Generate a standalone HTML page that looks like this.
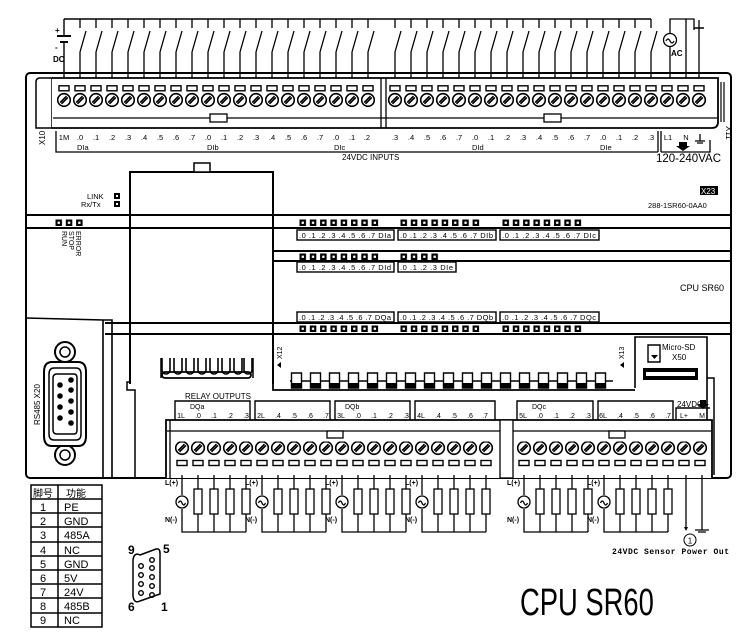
<!DOCTYPE html>
<html><head><meta charset="utf-8"><style>
html,body{margin:0;padding:0;background:#fff;}
svg{display:block;}
text{font-family:"Liberation Sans","Noto Sans CJK SC",sans-serif;fill:#000;}
</style></head><body>
<svg width="754" height="635" viewBox="0 0 754 635" xmlns="http://www.w3.org/2000/svg">
<defs>
<pattern id="scrT" patternUnits="userSpaceOnUse" width="16" height="24">
  <rect x="3" y="0.8" width="10" height="5" fill="#fff" stroke="#000" stroke-width="1.4"/>
  <circle cx="8" cy="15" r="6.3" fill="#fff" stroke="#000" stroke-width="1.6"/>
  <path d="M4.2,17.5 L10.5,11.2 M5.5,18.8 L11.8,12.5" stroke="#000" stroke-width="1.6"/>
</pattern>
<pattern id="scrB" patternUnits="userSpaceOnUse" width="16" height="26">
  <circle cx="8" cy="6.5" r="6.3" fill="#fff" stroke="#000" stroke-width="1.6"/>
  <path d="M4.2,9 L10.5,2.7 M5.5,10.3 L11.8,4" stroke="#000" stroke-width="1.6"/>
  <rect x="3" y="19" width="10" height="5" fill="#fff" stroke="#000" stroke-width="1.4"/>
</pattern>
<pattern id="sw" patternUnits="userSpaceOnUse" width="16" height="90">
  <path d="M8,19 V28 M8,52 L14,31 M8,52 V85" stroke="#000" stroke-width="1.3" fill="none"/>
</pattern>
<pattern id="led" patternUnits="userSpaceOnUse" width="10.3" height="8">
  <rect x="0.5" y="0.5" width="6.5" height="6.5" fill="#000"/>
  <rect x="2.6" y="2.6" width="2.3" height="2.3" fill="#fff"/>
</pattern>
<pattern id="rel" patternUnits="userSpaceOnUse" width="19" height="18">
  <path d="M0,9 H1.5 M11.5,9 H19" stroke="#000" stroke-width="1.4"/>
  <path d="M1.5,1 H11.5 V16 H1.5 Z" fill="#fff" stroke="#000" stroke-width="1.4"/>
  <rect x="1.5" y="11" width="10" height="5" fill="#000"/>
</pattern>
<g id="grp" stroke="#000" stroke-width="1.3" fill="none">
  <path d="M0,475 V495 M0,509 V532 H64"/>
  <circle cx="0" cy="502" r="6" fill="#fff"/>
  <path d="M-3.5,503 q1.7,-4 3.5,0 t3.5,0"/>
  <path d="M16,475 V489 M16,514 V532 M32,475 V489 M32,514 V532 M48,475 V489 M48,514 V532 M64,475 V489 M64,514 V532"/>
  <rect x="12" y="489" width="8" height="25" fill="#fff"/>
  <rect x="28" y="489" width="8" height="25" fill="#fff"/>
  <rect x="44" y="489" width="8" height="25" fill="#fff"/>
  <rect x="60" y="489" width="8" height="25" fill="#fff"/>
</g>
</defs>

<path d="M64,19 H651 M64,19 V36 M64,42 V85" stroke="#000" stroke-width="1.4" fill="none"/>
<path d="M57,36 H71 M60,42 H68" stroke="#000" stroke-width="2"/>
<text x="55" y="33" font-size="8" font-weight="bold">+</text>
<text x="55" y="50" font-size="8" font-weight="bold">-</text>
<text x="53" y="62" font-size="8" font-weight="bold">DC</text>
<g transform="translate(72,0)"><rect x="0" y="0" width="304" height="86" fill="url(#sw)"/></g>
<g transform="translate(387,0)"><rect x="0" y="0" width="272" height="86" fill="url(#sw)"/></g>
<path d="M670,85 V47 M670,33 V19 H686 V85" stroke="#000" stroke-width="1.3" fill="none"/>
<path d="M686,19 H694 V30" stroke="#000" stroke-width="1.3" fill="none"/>
<path d="M699,20 V85" stroke="#000" stroke-width="1.3"/>
<path d="M694,28 H704" stroke="#000" stroke-width="1.5"/>
<circle cx="670" cy="40" r="6.5" fill="#fff" stroke="#000" stroke-width="1.3"/>
<path d="M666,41 q2,-4 4,0 t4,0" stroke="#000" stroke-width="1.2" fill="none"/>
<text x="671" y="56" font-size="8" font-weight="bold">AC</text>

<rect x="26" y="73" width="705" height="405" rx="4" fill="none" stroke="#000" stroke-width="2"/>
<path d="M36,128 V82 Q36,78 40,78 H52 V128 Z" fill="none" stroke="#000" stroke-width="1.5"/>
<path d="M52,78 H718 V122 Q718,128 712,128 H52" fill="#fff" stroke="#000" stroke-width="1.8"/>
<path d="M53,118 H717 M381,78 V128 M386,78 V128" stroke="#000" stroke-width="1.3"/>
<rect x="210" y="114" width="17" height="8" fill="#fff" stroke="#000" stroke-width="1.3"/>
<rect x="544" y="114" width="17" height="8" fill="#fff" stroke="#000" stroke-width="1.3"/>
<g transform="translate(56,85)"><rect x="0" y="0" width="320" height="23" fill="url(#scrT)"/></g>
<g transform="translate(387,85)"><rect x="0" y="0" width="320" height="23" fill="url(#scrT)"/></g>
<path d="M721,82 V122 M724,82 V122" stroke="#000" stroke-width="1.2"/>

<text font-size="7.5" y="140" text-anchor="middle">
<tspan x="64">1M</tspan><tspan x="80">.0</tspan><tspan x="96">.1</tspan><tspan x="112">.2</tspan><tspan x="128">.3</tspan><tspan x="144">.4</tspan><tspan x="160">.5</tspan><tspan x="176">.6</tspan><tspan x="192">.7</tspan><tspan x="208">.0</tspan><tspan x="224">.1</tspan><tspan x="240">.2</tspan><tspan x="256">.3</tspan><tspan x="272">.4</tspan><tspan x="288">.5</tspan><tspan x="304">.6</tspan><tspan x="320">.7</tspan><tspan x="336">.0</tspan><tspan x="352">.1</tspan><tspan x="368">.2</tspan>
<tspan x="395">.3</tspan><tspan x="411">.4</tspan><tspan x="427">.5</tspan><tspan x="443">.6</tspan><tspan x="459">.7</tspan><tspan x="475">.0</tspan><tspan x="491">.1</tspan><tspan x="507">.2</tspan><tspan x="523">.3</tspan><tspan x="539">.4</tspan><tspan x="555">.5</tspan><tspan x="571">.6</tspan><tspan x="587">.7</tspan><tspan x="603">.0</tspan><tspan x="619">.1</tspan><tspan x="635">.2</tspan><tspan x="651">.3</tspan><tspan x="668">L1</tspan><tspan x="686">N</tspan>
</text>
<text font-size="7.5" y="150"><tspan x="77">DIa</tspan><tspan x="207">DIb</tspan><tspan x="334">DIc</tspan><tspan x="472">DId</tspan><tspan x="600">DIe</tspan></text>
<path d="M56,131 V152 H658 M658,131 V152 M661,131 V152 M661,152 H710 V140" stroke="#000" stroke-width="1.3" fill="none"/>
<path d="M679,142 h8 v4 h3 l-7,5 l-7,-5 h3z" fill="#000"/>
<path d="M700,134 V141 M695,141 H705 M697,143 H703" stroke="#000" stroke-width="1.3"/>
<text x="342" y="160" font-size="8">24VDC INPUTS</text>
<text x="656" y="162" font-size="11.5">120-240VAC</text>
<text x="0" y="0" font-size="8" transform="translate(45,145) rotate(-90)">X10</text>
<text x="0" y="0" font-size="8" transform="translate(726,126) rotate(90)">X11</text>

<path d="M130,384 V172 H273 V384" fill="none" stroke="#000" stroke-width="2"/>
<rect x="194" y="163" width="16" height="9" fill="#fff" stroke="#000" stroke-width="1.5"/>
<text x="87" y="199" font-size="7.5">LINK</text>
<rect x="114" y="193" width="6" height="6" fill="#000"/><rect x="116" y="195" width="2" height="2" fill="#fff"/>
<text x="81" y="207" font-size="7.5">Rx/Tx</text>
<rect x="114" y="201" width="6" height="6" fill="#000"/><rect x="116" y="203" width="2" height="2" fill="#fff"/>
<rect x="700" y="186" width="18" height="9" fill="#000"/>
<text x="701" y="194" font-size="8" style="fill:#fff">X23</text>
<text x="648" y="208" font-size="7.5">288-1SR60-0AA0</text>
<text x="680" y="291" font-size="9">CPU SR60</text>

<path d="M26,215 H731 M26,228 H731 M273,251 H731 M273,261 H731 M105,323 H731 M105,334 H731" stroke="#000" stroke-width="2"/>
<g transform="translate(55,219)"><rect width="31" height="8" fill="url(#led)"/></g>
<text font-size="7" transform="translate(62,231) rotate(90)">RUN</text>
<text font-size="7" transform="translate(69,231) rotate(90)">STOP</text>
<text font-size="7" transform="translate(76,231) rotate(90)">ERROR</text>
<g transform="translate(299,219)"><rect width="82" height="8" fill="url(#led)"/></g>
<g transform="translate(400,219)"><rect width="82" height="8" fill="url(#led)"/></g>
<g transform="translate(502,219)"><rect width="82" height="8" fill="url(#led)"/></g>
<g transform="translate(299,253)"><rect width="82" height="8" fill="url(#led)"/></g>
<g transform="translate(400,253)"><rect width="41" height="8" fill="url(#led)"/></g>
<g transform="translate(299,325)"><rect width="82" height="8" fill="url(#led)"/></g>
<g transform="translate(400,325)"><rect width="82" height="8" fill="url(#led)"/></g>
<g transform="translate(502,325)"><rect width="82" height="8" fill="url(#led)"/></g>
<g fill="none" stroke="#000" stroke-width="1.4">
<rect x="297" y="230" width="97" height="10"/><rect x="398" y="230" width="98" height="10"/><rect x="500" y="230" width="99" height="10"/>
<rect x="297" y="262" width="97" height="10"/><rect x="398" y="262" width="58" height="10"/>
<rect x="297" y="312" width="97" height="10"/><rect x="398" y="312" width="98" height="10"/><rect x="500" y="312" width="99" height="10"/>
</g>
<g font-size="7.5">
<text x="299" y="238" textLength="92">.0 .1 .2 .3 .4 .5 .6 .7 DIa</text>
<text x="400" y="238" textLength="93">.0 .1 .2 .3 .4 .5 .6 .7 DIb</text>
<text x="502" y="238" textLength="94">.0 .1 .2 .3 .4 .5 .6 .7 DIc</text>
<text x="299" y="270" textLength="92">.0 .1 .2 .3 .4 .5 .6 .7 DId</text>
<text x="400" y="270" textLength="53">.0 .1 .2 .3 DIe</text>
<text x="299" y="320" textLength="92">.0 .1 .2 .3 .4 .5 .6 .7 DQa</text>
<text x="400" y="320" textLength="93">.0 .1 .2 .3 .4 .5 .6 .7 DQb</text>
<text x="502" y="320" textLength="94">.0 .1 .2 .3 .4 .5 .6 .7 DQc</text>
</g>

<path d="M26,318 L103,320 V478 M103,320 H112 V478 M112,330 V478" fill="none" stroke="#000" stroke-width="1.6"/>
<text font-size="8" transform="translate(40,425) rotate(-90)">RS485 X20</text>
<g fill="none" stroke="#000">
<circle cx="65" cy="352" r="10" stroke-width="2"/><circle cx="65" cy="352" r="5" stroke-width="1.5"/>
<circle cx="65" cy="455" r="10" stroke-width="2"/><circle cx="65" cy="455" r="5" stroke-width="1.5"/>
<path d="M52,362 H78 Q86,362 86,372 V436 Q86,446 78,446 H52 Q44,446 44,436 V372 Q44,362 52,362 Z" stroke-width="2" fill="#fff"/>
<path d="M54,368 H76 Q81,368 81,374 V434 Q81,440 76,440 H54 Q49,440 49,434 V374 Q49,368 54,368 Z" stroke-width="1.5"/>
<path d="M57,374 H74 Q77,374 77,378 V430 Q77,434 74,434 H57 Q53,434 53,430 V378 Q53,374 57,374 Z" stroke-width="1.5"/>
</g>
<g fill="#000">
<circle cx="71" cy="380" r="2.8"/><circle cx="71" cy="390" r="2.8"/><circle cx="71" cy="401" r="2.8"/><circle cx="71" cy="412" r="2.8"/><circle cx="71" cy="423" r="2.8"/>
<circle cx="60" cy="385" r="2.8"/><circle cx="60" cy="396" r="2.8"/><circle cx="60" cy="407" r="2.8"/><circle cx="60" cy="418" r="2.8"/>
</g>

<path d="M130,382 H127 V390 H135 V478" fill="none" stroke="#000" stroke-width="1.5"/>
<path d="M273,382 V390 H635" fill="none" stroke="#000" stroke-width="1.8"/>
<path d="M161,378 V358 M253,378 V358" stroke="#000" stroke-width="1.5"/>
<path d="M162,358 v12 a4,4 0 0 0 8,0 v-12 M174,358 v12 a4,4 0 0 0 8,0 v-12 M186,358 v12 a4,4 0 0 0 8,0 v-12 M198,358 v12 a4,4 0 0 0 8,0 v-12 M210,358 v12 a4,4 0 0 0 8,0 v-12 M222,358 v12 a4,4 0 0 0 8,0 v-12 M234,358 v12 a4,4 0 0 0 8,0 v-12 M244,358 v12 a4,4 0 0 0 8,0 v-12" fill="none" stroke="#000" stroke-width="1.6"/>
<rect x="162" y="372" width="89" height="6" rx="3" fill="none" stroke="#000" stroke-width="1.8"/>
<g transform="translate(290,372)"><rect x="0" y="0" width="323" height="17" fill="url(#rel)"/></g>
<text font-size="7" transform="translate(282,359) rotate(-90)">X12</text>
<path d="M277,365 l4,-3 v6z" fill="#000"/>
<text font-size="7" transform="translate(624,359) rotate(-90)">X13</text>
<path d="M620,365 l4,-3 v6z" fill="#000"/>
<path d="M635,388 V337 H707 V478" fill="none" stroke="#000" stroke-width="1.6"/>
<path d="M648,345 H660 V362 H648 Z" fill="none" stroke="#000" stroke-width="1.4"/>
<path d="M651,355 H658 L654.5,359 Z" fill="#000"/>
<text x="662" y="350" font-size="8">Micro-SD</text>
<text x="672" y="360" font-size="8">X50</text>
<rect x="643" y="368" width="55" height="12" fill="#000"/>
<rect x="646" y="372" width="49" height="4" fill="#fff"/>
<path d="M707,378 H714 V475" fill="none" stroke="#000" stroke-width="1.5"/>

<text x="185" y="399" font-size="8">RELAY OUTPUTS</text>
<g fill="none" stroke="#000" stroke-width="1.4">
<path d="M175,420 V401 H250 V420 M255,420 V401 H330 V420 M335,420 V401 H410 V420 M415,420 V401 H495 V420 M517,420 V401 H593 V420 M598,420 V401 H673 V420 M676,420 V408 H710"/>
</g>
<path d="M700,400 h6 v4 h3 l-6,5 l-6,-5 h3z" fill="#000"/>
<g font-size="7">
<text x="190" y="409">DQa</text><text x="345" y="409">DQb</text><text x="532" y="409">DQc</text>
<text x="677" y="407" font-size="8">24VDC</text>
</g>
<text font-size="7" y="418" text-anchor="middle">
<tspan x="181">1L</tspan><tspan x="198">.0</tspan><tspan x="214">.1</tspan><tspan x="230">.2</tspan><tspan x="246">.3</tspan><tspan x="261">2L</tspan><tspan x="278">.4</tspan><tspan x="294">.5</tspan><tspan x="310">.6</tspan><tspan x="326">.7</tspan><tspan x="341">3L</tspan><tspan x="358">.0</tspan><tspan x="374">.1</tspan><tspan x="390">.2</tspan><tspan x="406">.3</tspan><tspan x="421">4L</tspan><tspan x="438">.4</tspan><tspan x="454">.5</tspan><tspan x="470">.6</tspan><tspan x="486">.7</tspan>
<tspan x="523">5L</tspan><tspan x="540">.0</tspan><tspan x="556">.1</tspan><tspan x="572">.2</tspan><tspan x="588">.3</tspan><tspan x="603">6L</tspan><tspan x="620">.4</tspan><tspan x="636">.5</tspan><tspan x="652">.6</tspan><tspan x="668">.7</tspan><tspan x="684">L+</tspan><tspan x="702">M</tspan>
</text>

<path d="M166,478 V420 H712 V478" fill="#fff" stroke="#000" stroke-width="1.8"/>
<path d="M167,431 H712 M170,420 V478" stroke="#000" stroke-width="1.3"/>
<rect x="500" y="420" width="13" height="58" fill="#fff" stroke="#000" stroke-width="1.3"/>
<rect x="327" y="431" width="16" height="7" fill="#fff" stroke="#000" stroke-width="1.3"/>
<rect x="609" y="431" width="16" height="7" fill="#fff" stroke="#000" stroke-width="1.3"/>
<g transform="translate(174,441.5)"><rect x="0" y="0" width="320" height="25" fill="url(#scrB)"/></g>
<g transform="translate(516,441.5)"><rect x="0" y="0" width="192" height="25" fill="url(#scrB)"/></g>

<use href="#grp" x="182"/><use href="#grp" x="262"/><use href="#grp" x="342"/><use href="#grp" x="422"/>
<use href="#grp" x="524"/><use href="#grp" x="604"/>
<g font-size="7" font-weight="bold">
<text x="165" y="485">L(+)</text><text x="165" y="522">N(-)</text>
<text x="245" y="485">L(+)</text><text x="245" y="522">N(-)</text>
<text x="325" y="485">L(+)</text><text x="325" y="522">N(-)</text>
<text x="405" y="485">L(+)</text><text x="405" y="522">N(-)</text>
<text x="507" y="485">L(+)</text><text x="507" y="522">N(-)</text>
<text x="587" y="485">L(+)</text><text x="587" y="522">N(-)</text>
</g>
<path d="M686,475 V528 M702,475 V530 M695,530 H709 M698,532 H706" stroke="#000" stroke-width="1.3"/>
<path d="M684,527 h4 l-2,4z" fill="#000"/>
<circle cx="690" cy="540" r="6" fill="none" stroke="#000" stroke-width="1"/>
<text x="690" y="543.5" font-size="8" text-anchor="middle">1</text>
<text x="612" y="554" font-size="8" style="font-family:'Liberation Mono',monospace" font-weight="bold" textLength="117">24VDC Sensor Power Out</text>

<text x="0" y="0" font-size="38" transform="translate(520,615) scale(0.72,1)">CPU SR60</text>

<g stroke="#000" fill="none" stroke-width="1.5">
<rect x="31" y="485" width="71" height="142"/>
<path d="M58,485 V627 M31,499 H102 M31,513 H102 M31,527 H102 M31,542 H102 M31,556 H102 M31,570 H102 M31,584 H102 M31,598 H102 M31,613 H102"/>
</g>
<g font-size="11">
<text x="33" y="497" font-size="10">脚号</text><text x="66" y="497" font-size="10">功能</text>
<text x="40" y="511">1</text><text x="64" y="511">PE</text>
<text x="40" y="525">2</text><text x="64" y="525">GND</text>
<text x="40" y="539">3</text><text x="64" y="539">485A</text>
<text x="40" y="554">4</text><text x="64" y="554">NC</text>
<text x="40" y="568">5</text><text x="64" y="568">GND</text>
<text x="40" y="582">6</text><text x="64" y="582">5V</text>
<text x="40" y="596">7</text><text x="64" y="596">24V</text>
<text x="40" y="610">8</text><text x="64" y="610">485B</text>
<text x="40" y="624">9</text><text x="64" y="624">NC</text>
</g>
<path d="M140,555 Q134,552 133,560 V596 Q134,604 140,601 L160,594 V553 Q160,548 156,549 Z" fill="none" stroke="#000" stroke-width="1.5"/>
<g fill="none" stroke="#000" stroke-width="1.4">
<circle cx="141" cy="566" r="2.3"/><circle cx="141" cy="575" r="2.3"/><circle cx="141" cy="584" r="2.3"/><circle cx="141" cy="593" r="2.3"/>
<circle cx="152" cy="560" r="2.3"/><circle cx="152" cy="568" r="2.3"/><circle cx="152" cy="577" r="2.3"/><circle cx="152" cy="586" r="2.3"/><circle cx="152" cy="595" r="2.3"/>
</g>
<g font-size="12" font-weight="bold">
<text x="128" y="554">9</text><text x="163" y="553">5</text><text x="128" y="611">6</text><text x="161" y="611">1</text>
</g>
</svg>
</body></html>
